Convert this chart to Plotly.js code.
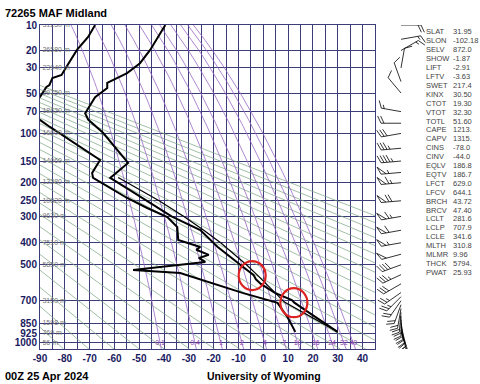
<!DOCTYPE html>
<html><head><meta charset="utf-8">
<script src="https://cdn.plot.ly/plotly-3.0.1.min.js"></script>
<style>html,body{margin:0;padding:0;background:#fff}#chart{width:480px;height:384px}</style>
</head><body><div id="chart"></div>
<script>
// ---------- data ----------
const pressureTicks = [10,20,30,50,70,100,150,200,250,300,400,500,700,850,925,1000];
const heightLabels = ['31250 m','26580 m','23940 m','20750 m','18620 m','16600 m','14060 m','12280 m','10820 m','9630 m','7510 m','5850 m','3150 m','1598 m','769 m','56 m'];
const tempTicks = [-90,-80,-70,-60,-50,-40,-30,-20,-10,0,10,20,30,40];
const mixingRatios = [0.1,0.4,1,2,4,7,10,16,24,32,40];
const mixingLabels = ['0.1','0.4','1','2','4','7','10','16','24','32','40'];
const thetaValues = [190,200,210,220,230,240,250,260,270,280,290,300,310,320,330,340,350,360,370,380,390,400,410,420,430,440,450];

const tempP = [10,19.7,27,33.5,41,45.4,54,72,80,99,154,188,225,250,300,349,417,500,551,560,575,600,650,695,712,750,800,850,914];
const tempT = [-39.5,-45.6,-49.7,-54.9,-62.9,-62.9,-67.8,-71.8,-70.6,-64.6,-54.5,-61.7,-52.5,-47,-37,-25.4,-18.5,-9.3,-4,-3.6,-3,-1,4.5,11.5,12.5,16,20.5,24.5,29.9];
const dewP = [10,14.1,19.7,26.2,31,34.9,37.2,42.8,44.5,53.8,60,75,80.6,90.3,110.5,147.7,176.2,188.2,241.8,272.3,302,337.6,388,417.6,430,453,467,486,525.6,541,652,713,806,914];
const dewT = [-67.8,-70.6,-75.1,-77.9,-80,-81.3,-85,-86.2,-87.4,-90,-94,-94,-90,-86,-77.9,-65.8,-69,-68.6,-54.9,-46.8,-38.7,-34.7,-34.3,-25.4,-27,-22,-26,-23.4,-52.5,-33.5,-8.4,5.7,9.7,12.9];
const parcelP = [914,850,800,750,708,650,600,550,500,450,400,350,300,250,200,187];
const parcelT = [30,23.6,18.3,13.1,8.5,4.7,1.3,-2.6,-6.8,-11.6,-17.2,-24,-32,-42,-54.5,-58.5];

const windP   = [914,900,875,850,825,800,775,750,725,700,675,650,600,550,500,450,400,350,300,250,200,175,150,125,100,85,70,50,40,30,20,15,10];
const windDir = [160,165,165,170,175,180,185,190,200,215,225,235,240,245,250,255,260,260,260,265,265,265,265,265,260,270,280,320,340,10,60,80,90];
const windSpd = [15,20,20,20,20,20,20,20,20,20,25,25,30,35,40,50,55,60,65,70,65,55,45,35,30,20,15,10,10,10,15,15,20];

const statNames = ['SLAT','SLON','SELV','SHOW','LIFT','LFTV','SWET','KINX','CTOT','VTOT','TOTL','CAPE','CAPV','CINS','CINV','EQLV','EQTV','LFCT','LFCV','BRCH','BRCV','LCLT','LCLP','LCLE','MLTH','MLMR','THCK','PWAT'];
const statValues = ['31.95','-102.18','872.0','-1.87','-2.91','-3.63','217.4','30.50','19.30','32.30','51.60','1213.','1315.','-78.0','-44.0','186.8','186.7','629.0','644.1','43.72','47.40','281.6','707.9','341.6','310.8','9.96','5794.','25.93'];

const circleT = [-4.5, 12.3];
const circleP = [555, 712];

// ---------- geometry helpers ----------
const KAPPA = 0.286;
const Y = p => Math.pow(p, KAPPA);
function dewFromE(e){ const l=Math.log(e/6.112); return 243.5*l/(17.67-l); }
const PLOT_W = 435, PLOT_H = 324, MAIN_W = 335;
const PX_PER_Y = PLOT_H/(Y(1050)-Y(10));
const px = x => (x-40)/PLOT_W;
const py = y => (349-y)/PLOT_H;

const traces = [];
thetaValues.forEach(th=>{
  const xs=[],ys=[];
  for(let p=1050;p>=10;p-=5){ xs.push(th*Math.pow(p/1000,KAPPA)-273.15); ys.push(Y(p)); }
  traces.push({x:xs,y:ys,mode:'lines',line:{color:'#78a47e',width:0.7},hoverinfo:'skip'});
});
mixingRatios.forEach(w=>{
  const xs=[],ys=[];
  for(let p=1050;p>=10;p-=5){ const e=w/1000*p/(0.622+w/1000); xs.push(dewFromE(e)); ys.push(Y(p)); }
  traces.push({x:xs,y:ys,mode:'lines',line:{color:'#9a68c8',width:0.8},hoverinfo:'skip'});
});
traces.push({x:parcelT,y:parcelP.map(Y),mode:'lines',line:{color:'#000',width:1.2}});
traces.push({x:tempT,y:tempP.map(Y),mode:'lines',line:{color:'#000',width:2}});
traces.push({x:dewT,y:dewP.map(Y),mode:'lines',line:{color:'#000',width:2}});
traces.push({x:mixingRatios.map(w=>dewFromE(w/1000*1000/(0.622+w/1000))),y:mixingRatios.map(()=>Y(1000)),mode:'text',text:mixingLabels,textfont:{family:'Arial',size:7,color:'#9040b0'},hoverinfo:'skip'});
traces.push({x:pressureTicks.map(()=>-89),y:pressureTicks.map(Y),mode:'text',text:heightLabels,textposition:'middle right',textfont:{family:'Arial',size:7,color:'#777'},hoverinfo:'skip'});

// wind barbs on a side axis (x2 in pixel units, y2 same pressure scale)
const STATION_X = 26, STAFF = 20, BARB = 8, FLAG = 5, GAP = 3;
const bx=[], by=[];
windP.forEach((p,i)=>{
  const d = windDir[i]*Math.PI/180;
  const s = [Math.sin(d), Math.cos(d)];
  const a = 65*Math.PI/180;
  const b = [s[0]*Math.cos(a)+s[1]*Math.sin(a), -s[0]*Math.sin(a)+s[1]*Math.cos(a)];
  const toData = (ex,up)=>[STATION_X+ex, Y(p)-up/PX_PER_Y];
  const P0 = toData(0,0), P1 = toData(s[0]*STAFF, s[1]*STAFF);
  bx.push(P0[0],P1[0],null); by.push(P0[1],P1[1],null);
  let spd = Math.round(windSpd[i]/5)*5, pos = STAFF;
  while(spd>=50){
    const base1=[s[0]*pos,s[1]*pos], base2=[s[0]*(pos-FLAG),s[1]*(pos-FLAG)], tip=[base1[0]+b[0]*BARB,base1[1]+b[1]*BARB];
    [base1,tip,base2].forEach(q=>{const t=toData(q[0],q[1]); bx.push(t[0]); by.push(t[1]);});
    bx.push(null); by.push(null); pos -= FLAG+GAP; spd -= 50;
  }
  while(spd>=10){
    const q0=[s[0]*pos,s[1]*pos], q1=[q0[0]+b[0]*BARB,q0[1]+b[1]*BARB];
    const t0=toData(q0[0],q0[1]), t1=toData(q1[0],q1[1]);
    bx.push(t0[0],t1[0],null); by.push(t0[1],t1[1],null); pos -= GAP; spd -= 10;
  }
  if(spd>=5){
    if(pos===STAFF) pos -= GAP;
    const q0=[s[0]*pos,s[1]*pos], q1=[q0[0]+b[0]*BARB/2,q0[1]+b[1]*BARB/2];
    const t0=toData(q0[0],q0[1]), t1=toData(q1[0],q1[1]);
    bx.push(t0[0],t1[0],null); by.push(t0[1],t1[1],null);
  }
});
traces.push({x:bx,y:by,xaxis:'x2',yaxis:'y2',mode:'lines',line:{color:'#000',width:0.8},hoverinfo:'skip'});
traces.forEach(t=>t.showlegend=false);

const annotations = [];
annotations.push({xref:'paper',yref:'paper',x:px(3),y:py(13),xanchor:'left',yanchor:'middle',text:'<b>72265 MAF Midland</b>',showarrow:false,font:{family:'Arial',size:11,color:'#000'}});
annotations.push({xref:'paper',yref:'paper',x:px(3),y:py(376),xanchor:'left',yanchor:'middle',text:'<b>00Z 25 Apr 2024</b>',showarrow:false,font:{family:'Arial',size:11,color:'#000'}});
annotations.push({xref:'paper',yref:'paper',x:px(264),y:py(376),xanchor:'center',yanchor:'middle',text:'<b>University of Wyoming</b>',showarrow:false,font:{family:'Arial',size:10.5,color:'#000'}});
statNames.forEach((n,i)=>{
  const yy = py(32+i*8.9);
  annotations.push({xref:'paper',yref:'paper',x:px(424),y:yy,xanchor:'left',yanchor:'middle',text:n,showarrow:false,font:{family:'Arial',size:7.5,color:'#444'}});
  annotations.push({xref:'paper',yref:'paper',x:px(451),y:yy,xanchor:'left',yanchor:'middle',text:statValues[i],showarrow:false,font:{family:'Arial',size:7.5,color:'#444'}});
});

const shapes = circleT.map((t,i)=>({type:'circle',xref:'x',yref:'y',xsizemode:'pixel',ysizemode:'pixel',xanchor:t,yanchor:Y(circleP[i]),
  x0:-13.5,x1:13.5,y0:-14.5,y1:14.5,line:{color:'#dd2222',width:2.2}}));

const axisFont = {family:'Arial',size:10,color:'#1a1a60',weight:'bold'};
const layout = {
  width:480,height:384,margin:{l:40,r:5,t:25,b:35},
  paper_bgcolor:'#fff',plot_bgcolor:'rgba(0,0,0,0)',
  xaxis:{domain:[0,MAIN_W/PLOT_W],range:[-90,45],tickvals:tempTicks,ticktext:tempTicks.map(String),showgrid:true,gridcolor:'#3c3c78',gridwidth:1,
    minor:{dtick:5,tick0:0,showgrid:true,gridcolor:'#3c3c78',gridwidth:1},
    zeroline:false,showline:true,linecolor:'#3c3c78',mirror:true,ticks:'',tickfont:axisFont},
  xaxis2:{domain:[MAIN_W/PLOT_W,1],range:[0,PLOT_W-MAIN_W],visible:false,anchor:'y2'},
  yaxis:{range:[Y(1050),Y(10)],tickvals:pressureTicks.map(Y),ticktext:pressureTicks.map(String),showgrid:true,gridcolor:'#3c3c78',gridwidth:1,
    zeroline:false,showline:true,linecolor:'#3c3c78',mirror:true,ticks:'',tickfont:axisFont},
  yaxis2:{range:[Y(1050),Y(10)],visible:false,anchor:'x2',showgrid:false},
  annotations, shapes, showlegend:false
};
Plotly.newPlot('chart',traces,layout,{staticPlot:true,displayModeBar:false});
</script></body></html>
